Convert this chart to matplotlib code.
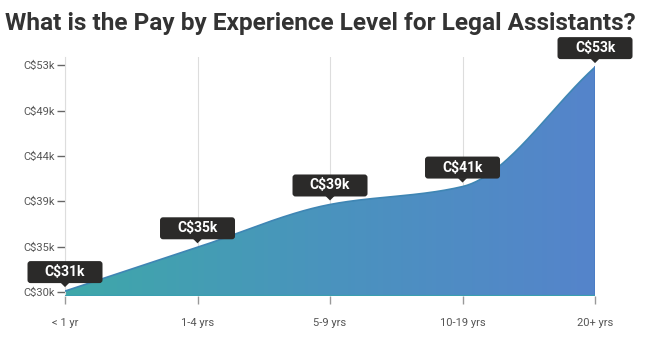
import numpy as np
import matplotlib
matplotlib.use("Agg")
import matplotlib.pyplot as plt
import matplotlib.transforms as mtransforms
from matplotlib.patches import FancyBboxPatch, Polygon
from matplotlib.colors import LinearSegmentedColormap

plt.rcParams['font.family'] = ['Roboto', 'DejaVu Sans']

categories = ["< 1 yr", "1-4 yrs", "5-9 yrs", "10-19 yrs", "20+ yrs"]
pay = [30.7, 35.1, 39.4, 41.2, 53.2]
point_labels = ["C$31k", "C$35k", "C$39k", "C$41k", "C$53k"]
ytick_vals = [30.6, 35.16, 39.72, 44.28, 48.84, 53.4]
ytick_labels = ["C$30k", "C$35k", "C$39k", "C$44k", "C$49k", "C$53k"]


def monotone_curve(x, y, n=60):
    # monotone cubic (Fritsch-Carlson), like d3 curveMonotoneX
    x = np.asarray(x, float)
    y = np.asarray(y, float)
    h = np.diff(x)
    d = np.diff(y) / h
    m = np.zeros_like(y)
    m[0] = d[0]
    m[-1] = d[-1]
    for i in range(1, len(y) - 1):
        if d[i - 1] * d[i] <= 0:
            m[i] = 0
        else:
            w1 = 2 * h[i] + h[i - 1]
            w2 = h[i] + 2 * h[i - 1]
            m[i] = (w1 + w2) / (w1 / d[i - 1] + w2 / d[i])
    xs, ys = [], []
    for i in range(len(x) - 1):
        t = np.linspace(0, 1, n)
        h00 = 2 * t**3 - 3 * t**2 + 1
        h10 = t**3 - 2 * t**2 + t
        h01 = -2 * t**3 + 3 * t**2
        h11 = t**3 - t**2
        xs.append(x[i] + t * h[i])
        ys.append(h00 * y[i] + h10 * h[i] * m[i] + h01 * y[i + 1] + h11 * h[i] * m[i + 1])
    return np.concatenate(xs), np.concatenate(ys)


fig = plt.figure(figsize=(6.52, 3.55), dpi=100)
ax = fig.add_axes([0.0997, 0.166, 0.8129, 0.673])

xpos = np.arange(len(categories))
ymin, ymax = 30.2, 54.2
ax.set_xlim(0, len(categories) - 1)
ax.set_ylim(ymin, ymax)

cx, cy = monotone_curve(xpos, pay)

# gradient fill clipped to the area
cmap = LinearSegmentedColormap.from_list("g", ["#3ea8a9", "#4a93be", "#5584cb"])
grad = np.linspace(0, 1, 256).reshape(1, -1)
img = ax.imshow(grad, cmap=cmap, aspect="auto", extent=[0, len(categories) - 1, ymin, ymax],
                origin="lower", zorder=2)
poly_pts = np.column_stack([np.concatenate([cx, [cx[-1], cx[0]]]),
                            np.concatenate([cy, [ymin, ymin]])])
poly = Polygon(poly_pts, closed=True, facecolor="none", edgecolor="none")
ax.add_patch(poly)
img.set_clip_path(poly)
ax.plot(cx, cy, color="#3f86b4", lw=1.2, zorder=3)
ax.plot([cx[-1], cx[-1]], [cy[-1], ymin], color="#4a7cc4", lw=1.2, zorder=3)
ax.plot([0, len(categories) - 1], [ymin + 0.05, ymin + 0.05], color="#3aa0b0", lw=1.5, zorder=3)

# vertical gridlines
for xv in xpos:
    ax.axvline(xv, color="#dddddd", lw=0.8, zorder=1)

for s in ["top", "right", "bottom"]:
    ax.spines[s].set_visible(False)
ax.spines["left"].set_color("#dddddd")
ax.spines["left"].set_linewidth(0.8)

ax.set_xticks(xpos)
ax.set_xticklabels(categories)
ax.set_yticks(ytick_vals)
ax.set_yticklabels(ytick_labels)
ax.tick_params(axis="x", length=6, width=1, color="#999999", labelsize=8, labelcolor="#555555", pad=10)
ax.tick_params(axis="y", length=6, width=1, color="#666666", labelsize=8, labelcolor="#555555", pad=1)

# tooltip style labels
for xv, yv, lab in zip(xpos, pay, point_labels):
    tr = fig.dpi_scale_trans + mtransforms.ScaledTranslation(xv, yv, ax.transData)
    box = FancyBboxPatch((-0.375, 0.08), 0.75, 0.22, boxstyle="round,pad=0,rounding_size=0.03",
                         facecolor="#2b2a29", edgecolor="none", transform=tr, zorder=5,
                         clip_on=False)
    ax.add_patch(box)
    tri = Polygon([[-0.045, 0.085], [0.045, 0.085], [0, 0.04]], closed=True,
                  facecolor="#2b2a29", edgecolor="none", transform=tr, zorder=5, clip_on=False)
    ax.add_patch(tri)
    ax.text(0, 0.19, lab, transform=tr, ha="center", va="center", color="white",
            fontsize=10, fontweight="bold", zorder=6, clip_on=False)

fig.text(0.008, 0.935, "What is the Pay by Experience Level for Legal Assistants?",
         fontsize=17.6, fontweight="bold", color="#333333", ha="left", va="center")

fig.savefig("out.png", dpi=100)
